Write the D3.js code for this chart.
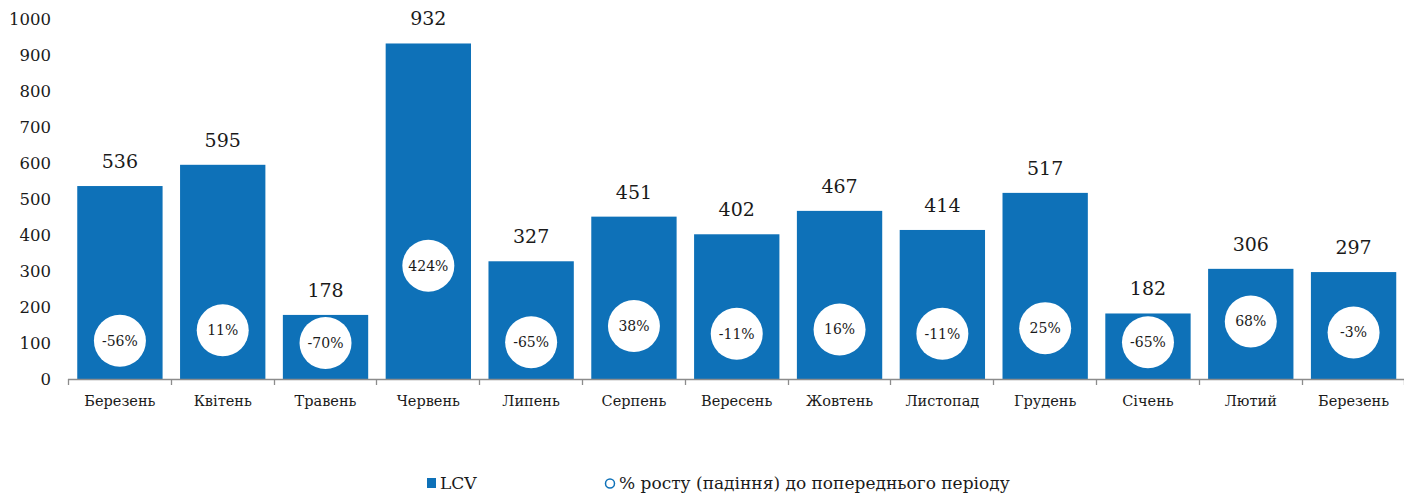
<!DOCTYPE html>
<html><head><meta charset="utf-8">
<script src="https://cdn.jsdelivr.net/npm/d3@7"></script>
<style>body{margin:0;background:#fff}svg{display:block}</style>
</head><body>
<svg id="chart" width="1404" height="495"></svg>
<script>
const categories = ["Березень","Квітень","Травень","Червень","Липень","Серпень","Вересень","Жовтень","Листопад","Грудень","Січень","Лютий","Березень"];
const lcv = [536,595,178,932,327,451,402,467,414,517,182,306,297];
const growth = [-56,11,-70,424,-65,38,-11,16,-11,25,-65,68,-3];
const yTicks = [0,100,200,300,400,500,600,700,800,900,1000];
const legendLabels = ["LCV","% росту (падіння) до попереднього періоду"];

const FONT = "'DejaVu Serif', serif";
const BLUE = "#0e71b8";
const TXT = "#1a1a1a";
const svg = d3.select("#chart");

const idx = categories.map((d,i)=>i);
const x = d3.scaleBand().domain(idx).range([68,1405.5]).paddingInner(0.17).paddingOuter(0.09);
const y = d3.scaleLinear().domain([0,1000]).range([379,19]);
const y2 = d3.scaleLinear().domain([-300,2000]).range([379,19]);

// y tick labels
svg.append("g").selectAll("text").data(yTicks).join("text")
  .attr("x",51).attr("y",d=>y(d)).attr("dy","0.35em")
  .attr("text-anchor","end").attr("font-family",FONT).attr("font-size",16.5).attr("fill",TXT)
  .text(d=>d);

// bars
svg.append("g").selectAll("rect").data(lcv).join("rect")
  .attr("x",(d,i)=>x(i)).attr("width",x.bandwidth())
  .attr("y",d=>y(d)).attr("height",d=>y(0)-y(d)).attr("fill",BLUE);

// value labels
svg.append("g").selectAll("text").data(lcv).join("text")
  .attr("x",(d,i)=>x(i)+x.bandwidth()/2).attr("y",d=>y(d)-18)
  .attr("text-anchor","middle").attr("font-family",FONT).attr("font-size",19).attr("fill",TXT)
  .text(d=>d);

// x axis
const step = x.step();
const x0 = x.range()[0];
const ax = svg.append("g");
ax.append("line").attr("x1",x0).attr("x2",1404).attr("y1",379.5).attr("y2",379.5).attr("stroke","#8c8c8c").attr("stroke-width",1.3);
ax.selectAll("line.t").data(d3.range(categories.length+1)).join("line").attr("class","t")
  .attr("x1",i=>Math.round(x0+i*step)+0.5).attr("x2",i=>Math.round(x0+i*step)+0.5)
  .attr("y1",379).attr("y2",385).attr("stroke","#8c8c8c").attr("stroke-width",1.3);
ax.selectAll("text").data(categories).join("text")
  .attr("x",(d,i)=>x(i)+x.bandwidth()/2).attr("y",401).attr("dy","0.35em")
  .attr("text-anchor","middle").attr("font-family",FONT).attr("font-size",14.5).attr("fill",TXT)
  .text(d=>d);

// growth circles
const g2 = svg.append("g");
g2.selectAll("circle").data(growth).join("circle")
  .attr("cx",(d,i)=>x(i)+x.bandwidth()/2).attr("cy",d=>y2(d)).attr("r",26).attr("fill","#fff");
g2.selectAll("text").data(growth).join("text")
  .attr("x",(d,i)=>x(i)+x.bandwidth()/2).attr("y",d=>y2(d)).attr("dy","0.35em")
  .attr("text-anchor","middle").attr("font-family",FONT).attr("font-size",14).attr("fill",TXT)
  .text(d=>d+"%");

// legend
const lg = svg.append("g");
lg.append("rect").attr("x",427).attr("y",478).attr("width",9).attr("height",10).attr("fill",BLUE);
lg.append("text").attr("x",440).attr("y",483).attr("dy","0.35em").attr("font-family",FONT).attr("font-size",17).attr("fill",TXT).text(legendLabels[0]);
lg.append("circle").attr("cx",610).attr("cy",483.5).attr("r",4.5).attr("fill","#fff").attr("stroke",BLUE).attr("stroke-width",1.5);
lg.append("text").attr("x",619).attr("y",483).attr("dy","0.35em").attr("font-family",FONT).attr("font-size",17).attr("fill",TXT).text(legendLabels[1]);
</script>
</body></html>
